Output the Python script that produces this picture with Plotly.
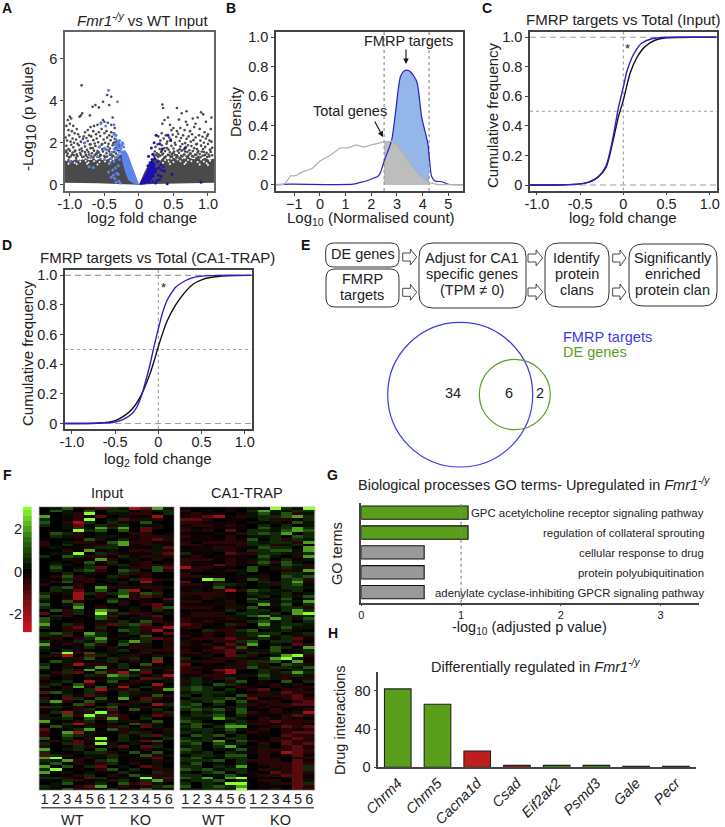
import numpy as np
import plotly.graph_objects as go

W, H = 725, 827
FONT = "Liberation Sans"
DARK = "#222222"
AX = "#444444"

# ---------- Panel A: volcano
A_GREY_X = [-0.83,-0.46,-0.52,-0.40,-0.43,-0.63,-0.67,-0.58,-0.82,-0.86,-0.84,-0.71,-1.00,-1.03,-0.98,-0.52,-0.50,-0.55,-0.45,-0.60,-0.65,-0.38,-0.40,-0.35,-0.70,-0.74,-0.78,-0.90,-0.95,-1.00,-1.05,-1.02,-0.97,-0.93,-0.88,-0.80,-0.72,-0.66,-0.62,-0.58,-0.54,-0.50,-0.47,-0.43,-0.40,-0.36,-0.33,
 -1.06,-1.04,-1.01,-0.99,-0.96,-0.94,-0.91,-0.89,-0.86,-0.84,-0.81,-0.79,-0.76,-0.74,-0.71,-0.69,-0.66,-0.64,-0.61,-0.59,-0.56,-0.54,-0.51,-0.49,-0.46,-0.44,-0.41,-0.39,-0.37,-0.35,-0.32,-0.30,
 -1.05,-1.02,-0.98,-0.95,-0.92,-0.87,-0.83,-0.78,-0.75,-0.70,-0.67,-0.63,-0.60,-0.57,-0.53,-0.48,-0.45,-0.42,-0.38,-0.34,-0.31,-0.29,
 -1.06,-1.03,-1.00,-0.97,-0.93,-0.90,-0.85,-0.82,-0.77,-0.73,-0.68,-0.65,-0.62,-0.58,-0.55,-0.52,-0.47,-0.44,-0.40,-0.36,-0.33,-0.28,
 -1.04,-0.99,-0.94,-0.89,-0.84,-0.80,-0.76,-0.72,-0.69,-0.64,-0.60,-0.56,-0.50,-0.46,-0.42,-0.37,-0.34,-0.30,-0.26,
 -1.05,-1.01,-0.96,-0.91,-0.86,-0.82,-0.78,-0.74,-0.70,-0.66,-0.61,-0.57,-0.53,-0.49,-0.43,-0.39,-0.35,-0.31,-0.27,
 0.34,0.35,0.55,0.42,0.37,0.34,0.68,0.69,0.62,0.58,0.78,0.85,0.90,0.93,0.97,1.05,0.82,0.70,0.45,0.47,0.50,0.55,0.60,0.66,0.74,0.80,0.88,0.95,1.00,1.04,
 0.28,0.31,0.33,0.36,0.39,0.41,0.44,0.46,0.49,0.52,0.54,0.57,0.59,0.61,0.64,0.67,0.69,0.72,0.75,0.77,0.79,0.82,0.84,0.87,0.89,0.92,0.94,0.97,0.99,1.02,1.05,
 0.24,0.27,0.30,0.33,0.37,0.40,0.43,0.47,0.50,0.53,0.56,0.60,0.63,0.65,0.68,0.71,0.73,0.76,0.80,0.83,0.86,0.90,0.93,0.96,1.00,1.03,1.06,
 0.23,0.26,0.29,0.32,0.35,0.38,0.42,0.45,0.48,0.51,0.55,0.58,0.62,0.66,0.70,0.74,0.78,0.81,0.85,0.88,0.91,0.95,0.98,1.01,1.04,
 0.22,0.25,0.28,0.31,0.34,0.39,0.44,0.48,0.52,0.56,0.61,0.65,0.69,0.72,0.77,0.83,0.86,0.92,0.96,1.02,1.06,
 0.21,0.27,0.33,0.37,0.41,0.46,0.50,0.54,0.59,0.63,0.67,0.71,0.75,0.79,0.84,0.89,0.94,0.99,1.03]
A_GREY_Y = [4.73,4.27,3.95,4.19,3.79,3.79,3.71,3.68,3.40,3.24,3.30,3.30,3.24,3.08,3.15,3.08,3.00,2.95,2.95,2.85,2.80,3.20,2.85,2.70,2.75,2.60,2.50,2.65,2.80,2.90,2.80,2.60,2.55,2.45,2.40,2.30,2.35,2.55,2.40,2.50,2.65,2.45,2.55,2.35,2.50,2.45,2.35,
 2.25,2.10,2.35,2.05,2.20,2.00,2.15,1.95,2.28,2.05,2.18,1.98,2.22,2.08,1.92,2.30,2.12,1.96,2.20,2.02,2.32,1.90,2.15,2.00,2.24,1.95,2.12,2.28,1.98,2.18,2.05,1.92,
 1.85,1.70,1.90,1.78,1.62,1.88,1.72,1.82,1.66,1.92,1.74,1.84,1.60,1.80,1.94,1.68,1.82,1.72,1.88,1.76,1.64,1.84,
 1.55,1.48,1.62,1.42,1.58,1.45,1.52,1.60,1.44,1.56,1.50,1.62,1.46,1.54,1.40,1.58,1.50,1.64,1.44,1.56,1.48,1.60,
 1.38,1.34,1.40,1.36,1.42,1.33,1.38,1.44,1.35,1.40,1.32,1.42,1.37,1.34,1.43,1.38,1.31,1.40,1.36,
 1.62,1.30,1.52,1.28,1.66,1.32,1.56,1.29,1.74,1.30,1.50,1.33,1.68,1.30,1.58,1.32,2.02,1.78,1.88,
 3.82,3.65,3.65,3.20,3.08,2.90,3.00,3.50,3.40,3.10,3.15,3.20,3.45,3.35,3.00,3.20,2.90,2.85,2.85,2.60,2.70,2.55,2.70,2.60,2.55,2.75,2.65,2.50,2.40,2.65,
 2.30,2.10,2.45,2.20,2.35,2.05,2.25,2.15,2.38,2.00,2.28,2.42,2.08,2.22,2.35,1.98,2.18,2.30,2.05,2.40,2.12,2.25,1.95,2.35,2.10,2.28,2.00,2.20,2.32,2.10,2.05,
 1.80,1.92,1.70,1.88,1.75,1.95,1.66,1.85,1.72,1.90,1.62,1.82,1.94,1.68,1.78,1.88,1.64,1.84,1.74,1.92,1.60,1.86,1.70,1.80,1.94,1.66,1.76,
 1.58,1.50,1.44,1.56,1.48,1.60,1.42,1.54,1.46,1.58,1.40,1.52,1.62,1.44,1.56,1.48,1.60,1.42,1.54,1.46,1.58,1.40,1.52,1.44,1.56,
 1.36,1.40,1.32,1.38,1.44,1.34,1.40,1.35,1.42,1.33,1.38,1.44,1.34,1.40,1.36,1.43,1.33,1.38,1.42,1.35,1.40,
 1.46,1.38,1.62,1.30,1.74,1.32,1.52,1.30,1.68,1.34,1.58,1.30,1.48,1.33,1.70,1.31,1.56,1.32,1.66]
A_DENSE_X = [-1.07,-1.02,-0.96,-0.9,-0.84,-0.78,-0.72,-0.66,-0.6,-0.54,-0.48,-0.42,-0.36,-0.3,-0.26,-0.22,-0.16,-0.08,0.0,0.08,0.15,0.19,0.24,0.3,0.36,0.42,0.48,0.54,0.6,0.66,0.72,0.78,0.84,0.9,0.96,1.02,1.09,1.09,0.6,0.2,0.0,-0.2,-0.6,-1.07]
A_DENSE_Y = [1.15,1.22,1.14,1.24,1.18,1.26,1.16,1.25,1.19,1.28,1.18,1.3,1.22,1.35,1.45,1.4,1.2,0.7,0.0,0.6,1.05,1.2,1.25,1.18,1.3,1.2,1.32,1.22,1.34,1.24,1.3,1.22,1.34,1.2,1.28,1.18,1.25,0.09,0.07,0.03,0.0,0.03,0.07,0.09]
A_GAP_X = [-1.05,-1.0,-0.97,-0.93,-0.88,-0.85,-0.8,-0.77,-0.73,-0.69,-0.65,-0.62,-0.57,-0.53,-0.49,-0.45,-0.41,-0.37,-0.33,0.27,0.31,0.35,0.38,0.43,0.47,0.5,0.56,0.6,0.63,0.68,0.71,0.76,0.8,0.85,0.9,0.94,0.98,1.03,-1.02,-0.9,-0.75,-0.6,-0.43,0.3,0.45,0.66,0.88,1.0]
A_GAP_Y = [1.18,1.1,1.22,1.05,1.2,1.1,1.24,1.14,1.06,1.22,1.12,1.2,1.08,1.22,1.1,1.26,1.14,1.2,1.28,1.1,1.2,1.04,1.18,1.1,1.24,1.08,1.2,1.12,1.26,1.06,1.18,1.12,1.26,1.08,1.2,1.1,1.02,1.14,1.0,0.98,1.0,0.96,1.0,0.95,0.98,0.98,0.96,0.94]
A_LIGHT_X = [0.0,-0.08,-0.155,-0.20,-0.26,-0.24,-0.20,-0.155,-0.08]
A_LIGHT_Y = [0.0,0.70,1.41,1.65,1.60,1.10,0.62,0.22,0.06]
A_DEEP_X = [0.0,0.11,0.19,0.22,0.24,0.19,0.09]
A_DEEP_Y = [0.0,0.62,1.25,1.06,0.62,0.27,0.02]
A_LIGHTPT_X = [-0.44,-0.31,-0.55,-0.48,-0.36,-0.34,-0.78,-0.58,-0.50,-0.46,-0.36,-0.33,-0.32,-0.30,-0.28,-0.26,-0.24,-0.22,-0.34,-0.31,-0.29,-0.27,-0.25,-0.23,-0.36,-0.33,-0.30,-0.28,-0.26,-0.24,-0.33,-0.30,-0.28,-0.40,-0.36,-0.42,-0.30,-0.34,-0.38,-0.44,-0.32,-0.37,-0.40,-0.35,-0.33,-0.29,-0.27,-0.50,-0.70,-1.00,-0.72,-0.66,-0.60,-0.39,-0.30]
A_LIGHTPT_Y = [4.50,3.95,2.90,2.80,2.85,2.35,2.00,1.80,1.75,1.65,2.40,2.15,1.95,2.05,2.10,1.90,2.00,1.80,1.90,1.85,2.00,1.75,1.85,1.95,1.70,1.65,1.75,1.55,1.70,1.50,1.30,1.40,1.20,1.25,1.10,1.05,0.90,0.80,0.70,0.60,0.55,0.45,0.35,0.30,0.12,0.18,0.08,1.20,1.30,1.10,0.85,0.82,1.35,1.55,0.50]
A_DEEPPT_X = [0.25,0.42,0.22,0.30,0.18,0.34,0.46,0.67,0.14,0.20,0.16,0.23,0.27,0.31,0.35,0.13,0.18,0.22,0.25,0.29,0.33,0.37,0.15,0.19,0.24,0.28,0.32,0.12,0.17,0.21,0.26,0.30,0.15,0.20,0.24,0.10,0.17,0.22,0.41,0.90,0.48,0.14,0.19]
A_DEEPPT_Y = [2.35,2.35,2.00,1.95,1.75,1.70,2.10,1.75,1.35,1.45,1.05,1.25,1.10,0.95,0.85,0.90,0.85,0.95,0.75,0.80,0.70,0.65,0.60,0.55,0.60,0.45,0.40,0.35,0.30,0.40,0.20,0.25,0.12,0.15,0.08,0.20,0.45,0.65,0.05,0.12,0.50,0.72,1.20]

# ---------- Panel B: density
B_TOTAL_X = [-1.71,-1.42,-1.3,-1.15,-1.0,-0.9,-0.7,-0.3,0.0,0.4,0.8,1.1,1.4,1.7,2.0,2.3,2.5,2.6,2.8,3.0,3.3,3.6,3.9,4.1,4.25,4.3,4.6,5.57]
B_TOTAL_Y = [0,0,0.02,0.06,0.06,0.065,0.085,0.11,0.16,0.2,0.25,0.25,0.27,0.255,0.27,0.285,0.29,0.293,0.295,0.27,0.2,0.12,0.06,0.03,0.015,0.012,0,0]
B_FMRP_X = [-1.71,-1.2,1.3,1.5,1.8,2.1,2.25,2.35,2.5,2.79,2.95,3.14,3.31,3.5,3.77,3.96,4.2,4.25,4.35,4.48,4.74,5.0,5.57]
B_FMRP_Y = [0,0.003,0.003,0.012,0.025,0.045,0.055,0.08,0.16,0.30,0.5,0.735,0.775,0.77,0.70,0.46,0.28,0.2,0.055,0.025,0.02,0.003,0]
B_BOUNDS = [2.5, 4.25]

# ---------- Panels C, D: cumulative curves
C_TOTAL_X = [-1.08,-0.7,-0.5,-0.4,-0.3,-0.2,-0.127,-0.058,0.0,0.077,0.154,0.25,0.366,0.5,1.08]
C_TOTAL_Y = [0,0.002,0.008,0.02,0.05,0.12,0.28,0.46,0.575,0.755,0.86,0.937,0.98,0.997,1]
C_FMRP_X = [-1.08,-0.7,-0.5,-0.4,-0.3,-0.2,-0.127,-0.058,0.0,0.04,0.096,0.154,0.21,0.33,0.5,1.08]
C_FMRP_Y = [0,0.002,0.008,0.02,0.05,0.13,0.30,0.52,0.665,0.767,0.858,0.92,0.96,0.99,1,1]
D_TOTAL_X = [-1.08,-0.7,-0.5,-0.4,-0.3,-0.2,-0.1,-0.05,0,0.05,0.1,0.2,0.3,0.4,0.5,0.6,0.8,1.08]
D_TOTAL_Y = [0,0.003,0.02,0.05,0.1,0.19,0.33,0.42,0.52,0.61,0.69,0.8,0.88,0.94,0.97,0.985,0.997,1]
D_FMRP_X = [-1.08,-0.7,-0.5,-0.4,-0.3,-0.25,-0.2,-0.1,-0.05,0,0.05,0.1,0.15,0.2,0.3,0.4,0.5,0.7,1.08]
D_FMRP_Y = [0,0.001,0.01,0.03,0.07,0.11,0.18,0.39,0.52,0.64,0.75,0.83,0.88,0.92,0.96,0.985,0.995,1,1]

# ---------- Panel F: heat map, one letter per cell (R strong red .. j bright green)
HEAT_LEVELS = {"R": -2.0, "r": -1.05, "d": -0.5, "e": -0.2, ".": 0, "f": 0.25, "g": 0.55, "h": 1.1, "i": 2.0, "j": 3.0}
F_INPUT_ROWS = [
".fhedrgfRrif",".hf.h.gg.dfg","..fdj.ffdd.g","i.ed.r.feeR.","g.edj.frdfd.","h.dRg.gf.h..","g.fr.gdg.ff.","..fr.igi.rd.","...jgh.h.r..",".hgd.f.edd.e",
".gfd.ffeeddf","e..ehd.gedrd","d.fdd.hiddee","d.g.edgiedf.","ef.edgg.e.fr","..d.ief.ddfd",".ffj.gdeeedr","g.hgdd.gedfd","..fe.id.f.d.",".f.eheg.ed.e",
".gf.g.dg.dfd",".h.egr.fddhr",".g.ghd.hg.hd","..g.fe.gdd..",".dhde.gd.d..","e.gddef.grdf",".dhed.fd.Re.","d..d.f.f.fe.",".ghd.iddfddf",".gfr.h.hR.d.",
"gefRgdghdhg.","h.eR.d.idrd.","g.dRf.g.d..r","f.hd..hf.e.f","h.fh.e.d.dre","g.ei.de.f.rh",".hdg.ih.d.ge","r.dg.jdgdd.f",".gd.ehge.dr.","hf.e.hd.ffd.",
"h..e.ffg.hde","i.gd.drghr.d","g.dr.g.fgddR","..dd.d.hgdR.","ghg.ig.egd.r","gfr.hg.f.h.e","ed.dgie.fgrd","geegfh.gig.d","i.dehd.hdd.f","ge.eg.d.df.d",
"f.gee.fg.ddd",".gjdhff.ed.e","fdR.rgefd.df","e.fdh.gdg.h.",".hfe.fg.deR.","g.fRddeg.he.","h.d.fieg.dff","f.gdi.d.ig.d",".dgr.hdRfr.e","ged.gdihgedR",
"d.f.e.gg.rgd",".fg.Reh.df.f","dg.hd.fde.R.","g.dieh.R.gdf",".ef.gRfdg.di","rhf.ge.gdff.","..gerd.gfehd","d.rg.h.i.rd.","gid.hfe.dg.e",".f.hr.gdf.Rg",
"rgfd.gh.ed.f","ef.dg.r.heg.",".gRfdjf.e.dg","d.hdjgrd.frd","ffg.hdid.ge.","i.edg.gfd.h.","d.gRd.e.hgd.",".hf.fedg.rf.","r..gi.hdf.ed","d.iRfe.dgd.f",
"d.hgf..gegrf","h.g.dj.g.e.g","edfr.gegfrh.","g.gr.jd.f.d.","d.egd.fr.rg.","i.fg.h.f.d.f","g..eggd.h.h.","rgd.ffge.hdf","ij.ed.g.edr.","gfid.gh.e.de",
"fh.dedg.d.f.","i.h.gr.f.rd.","gj.e.dh.g.df","i.f.fe.ge.gd","f.edg.dehfdd","ggd.rg.f.jdg","e.gd.fdg.gid",".fh.eg.hdrf.","gf.dri.d.dgh","fehdfeg.dhfe",
]
F_TRAP_ROWS = [
"e...e.f.jgej","d.e.e.giffgg","edee.efhfhdf","edrRedfgghig","rrd.ee.gdd.g","ddeee.f.f.hf","eddede.g.g.f","d.eeee.hfgig","ded.r.ggfhih","e..e.dghgi.g",
"dee.d.ffg.hg","eeeedeh.gdgf","d.ddddgfggdi","ddeeedggdfg.",".eedde.hgg.i","eeefd.gghhfi","gee.rddggfdg","ed.eee.hf.fi","dddedefg.gef","dee.dedhdhf.",
"d.erde.g.hgd","Rddee.h.fgfd","edeedfh.edfi","d..e.f.e.ggf","ddfe.eff.hgh","e.ji.ehd.ghd","r.ed.e.gfgif","ddeggf.fdghe","ee.hee.f.ggf","efedRdhgffg.",
"dddde.gffgef","fedfe.fg.gfh","eedee.h.fh.f","dd.ed.ggegfi","eeeefe.ifh.g","ddd.dfh.eggd",".eeeg.gg.gig","eddd.ggfg.ij","edddffhifgdf","deeedf.gigfh",
"dedeeeghfg.g","rde.gd.ifggf","dd.ed..gfhff","e.gddgh.fge.","eededfggg.fg","d.d.dfgifgfd","edddrdfgegre","fe.ddgh.ggd.","ded.rdi.f.rd","eeerdhe.hg.i",
"d.ddrdffh.fg","ddedr.gdgefg","eef.rgd.fijd","g.eddfefijfe","dfddedggh.ie","r.e.fdgd.hgf","ddeeddhfggfh","deerRe.gd.gf","dd.dR..gfgig","eeddeffhfdgf",
"fgedge.gfded","dgf.dh.e.h.g","fg.hgf.ed.d.","ghgf.de.d.ed","ghg.g.dr.dde","fgggf.edfrdd","g.gf.hddddre",".ggghfr.edrd","gfgh.hedd.dr","gh.g.gdeddrr",
"hgf.dgedede.","ghghfh..d.ed",".gfg.hdedefR","fggh.gee.drd","gffigf.dede.","hg..fgedrddd","fhg.hgdd.dd.","gh.gii.edrdr","fggfhfed.ded","gfg.g.de.drr",
".hgh.g.e.rdd","gfg.gg..ddrd","hggi.hdedrdd","gh.hfg.d.rdr","fg.gi.ef.dre","hg.f.hedddrd","gfg.gfedeRrd",".ggfhh.d.fre","ghf.gg.de.dd","gggh.gddd.re",
"fh.f.g.dddrd","gg.gfi.eddrg","hghfgg.dfdrg","f.gh.ge.rdrd","gg.fh.eddrre","hgi.ij.e.fre","fggh.g.dd.rf","g.gfjj.efdrg","h.ghgi.ee.rd","ffggfj.ed.rd",
]

# Colour bar steps
F_SCALE_LEVELS = [-2.75,-2.5,-2.25,-2,-1.75,-1.5,-1.25,-1,-0.75,-0.5,-0.25,0,0.25,0.5,0.75,1,1.25,1.5,1.75,2,2.25,2.5,2.75,3]

# ---------- Panel G / H bars
G_TERMS = ["GPC acetylcholine receptor signaling pathway","regulation of collateral sprouting","cellular response to drug","protein polyubiquitination","adenylate cyclase-inhibiting GPCR signaling pathway"]
G_VALUES = [1.07,1.07,0.63,0.63,0.63]
G_COLORS = ["#5a9e1c","#5a9e1c","#999999","#999999","#999999"]
H_GENES = ["Chrm4","Chrm5","Cacna1d","Csad","Eif2ak2","Psmd3","Gale","Pecr"]
H_VALUES = [82,66,17,2,2,2,1,1]
H_COLORS = ["#5a9e1c","#5a9e1c","#bf1e1e","#bf1e1e","#5a9e1c","#5a9e1c","#222222","#222222"]

def px(x): return x / W
def py(y): return 1 - y / H

fig = go.Figure()
anns, shapes = [], []
layout_axes = {}

def axes(n, x0, x1, y0, y1, xr, yr, **kw):
    s = "" if n == 1 else str(n)
    xa = dict(domain=[px(x0), px(x1)], range=xr, anchor="y"+s, showgrid=False, zeroline=False, automargin=False,
              showline=True, linecolor=AX, linewidth=1.5, ticks="outside", ticklen=3, tickwidth=1, tickcolor=AX,
              ticklabelstandoff=-4, tickfont=dict(family=FONT, size=14.5, color=DARK))
    ya = dict(domain=[py(y1), py(y0)], range=yr, anchor="x"+s, showgrid=False, zeroline=False, automargin=False,
              showline=True, linecolor=AX, linewidth=1.5, ticks="outside", ticklen=3, tickwidth=1, tickcolor=AX,
              tickfont=dict(family=FONT, size=14.5, color=DARK))
    xa.update(kw.get("x", {})); ya.update(kw.get("y", {}))
    layout_axes["xaxis"+s] = xa; layout_axes["yaxis"+s] = ya
    return "x"+s, "y"+s

def text(x, y, t, size=14.5, color=DARK, anchor="center", angle=0, bold=False):
    if bold: t = "<b>"+t+"</b>"
    anns.append(dict(x=px(x), y=py(y), xref="paper", yref="paper", text=t, showarrow=False, textangle=angle,
                     xanchor=anchor, yanchor="middle", font=dict(family=FONT, size=size, color=color)))

def arrow(x0, y0, x1, y1):
    anns.append(dict(x=px(x1), y=py(y1), ax=x0-x1, ay=y0-y1, xref="paper", yref="paper", axref="pixel", ayref="pixel",
                     text="", showarrow=True, arrowhead=2, arrowsize=1, arrowwidth=1.1, arrowcolor="#111111"))

def rbox(x0, y0, x1, y1, r):
    d = (f"M{px(x0+r)},{py(y0)} L{px(x1-r)},{py(y0)} Q{px(x1)},{py(y0)} {px(x1)},{py(y0+r)} "
         f"L{px(x1)},{py(y1-r)} Q{px(x1)},{py(y1)} {px(x1-r)},{py(y1)} L{px(x0+r)},{py(y1)} "
         f"Q{px(x0)},{py(y1)} {px(x0)},{py(y1-r)} L{px(x0)},{py(y0+r)} Q{px(x0)},{py(y0)} {px(x0+r)},{py(y0)} Z")
    shapes.append(dict(type="path", xref="paper", yref="paper", path=d, line=dict(color="#333333", width=1)))

def block(x0, x1, y):
    m = x0 + (x1-x0)*0.55
    pts = [(x0,y-4),(m,y-4),(m,y-8),(x1,y),(m,y+8),(m,y+4),(x0,y+4)]
    d = "M" + " L".join(f"{px(a)},{py(b)}" for a,b in pts) + " Z"
    shapes.append(dict(type="path", xref="paper", yref="paper", path=d, line=dict(color="#333333", width=0.9)))

def guides(xa, ya, xr, yr=None):
    for v, dash in ((0,"dash"),(1,"dash"),(0.5,"dot")):
        fig.add_trace(go.Scatter(x=list(xr), y=[v,v], mode="lines", xaxis=xa, yaxis=ya, hoverinfo="skip",
                                 line=dict(color="#a0a0a0", width=1.1, dash="6px,4px" if dash=="dash" else "dot"), showlegend=False))
    fig.add_trace(go.Scatter(x=[0,0], y=list(yr), mode="lines", xaxis=xa, yaxis=ya, hoverinfo="skip",
                             line=dict(color="#a0a0a0", width=1.1, dash="dot"), showlegend=False))

BIG2 = '<sub><span style="font-size:15px">2</span></sub>'
BIG10 = '<sub><span style="font-size:15px">10</span></sub>'
SMALL = lambda s: f'<sub>{s}</sub>'
num_ticks = dict(tickvals=[-1,-0.5,0,0.5,1], ticktext=["-1.0","-0.5","0","0.5","1.0"])
frac_ticks = dict(tickvals=[0,0.2,0.4,0.6,0.8,1.0], ticktext=["0","0.2","0.4","0.6","0.8","1.0"])
CURVE = dict(shape="spline", smoothing=0.7)

# ---- A
xa, ya = axes(1, 65, 214, 32, 191, [-1.07,1.087], [-0.3,7.27],
              x=dict(**num_ticks, linecolor="#666666"), y=dict(tickvals=[0,2,4,6], linecolor="#666666"))
layout_axes["xaxis"]["mirror"] = True; layout_axes["yaxis"]["mirror"] = True
fig.add_trace(go.Scatter(x=A_DENSE_X, y=A_DENSE_Y, fill="toself", fillcolor="#4a4a4a", mode="lines", line=dict(width=0), xaxis=xa, yaxis=ya, showlegend=False))
fig.add_trace(go.Scatter(x=A_GAP_X, y=A_GAP_Y, mode="markers", marker=dict(size=2, color="#ffffff"), xaxis=xa, yaxis=ya, showlegend=False))
fig.add_trace(go.Scatter(x=A_GREY_X, y=A_GREY_Y, mode="markers", marker=dict(size=2.6, color="#4a4a4a"), xaxis=xa, yaxis=ya, showlegend=False))
fig.add_trace(go.Scatter(x=A_LIGHT_X, y=A_LIGHT_Y, fill="toself", fillcolor="#5b84ee", mode="lines", line=dict(width=0), xaxis=xa, yaxis=ya, showlegend=False))
fig.add_trace(go.Scatter(x=A_DEEP_X, y=A_DEEP_Y, fill="toself", fillcolor="#1c0fb4", mode="lines", line=dict(width=0), xaxis=xa, yaxis=ya, showlegend=False))
fig.add_trace(go.Scatter(x=A_LIGHTPT_X, y=A_LIGHTPT_Y, mode="markers", marker=dict(size=3, color="#5b84ee"), xaxis=xa, yaxis=ya, showlegend=False))
fig.add_trace(go.Scatter(x=A_DEEPPT_X, y=A_DEEPPT_Y, mode="markers", marker=dict(size=3, color="#1c0fb4"), xaxis=xa, yaxis=ya, showlegend=False))
text(142, 20, "<i>Fmr1<sup>-/y</sup></i> vs WT Input", 15)
text(141.7, 219, "log"+BIG2+" fold change", 15)
text(29, 117, "-Log"+BIG10+" (p value)", 15, angle=-90)

# ---- B
xa, ya = axes(2, 276, 463, 32, 191, [-1.71,5.57], [-0.043,1.036],
              x=dict(tickvals=[-1,0,1,2,3,4,5]), y=frac_ticks)
layout_axes["xaxis2"]["mirror"] = True; layout_axes["yaxis2"]["mirror"] = True
tx, ty = np.array(B_TOTAL_X), np.array(B_TOTAL_Y)
fx, fy = np.array(B_FMRP_X), np.array(B_FMRP_Y)
m1 = (fx >= B_BOUNDS[0]) & (fx <= B_BOUNDS[1]); m2 = (tx >= B_BOUNDS[0]) & (tx <= B_BOUNDS[1])
fig.add_trace(go.Scatter(x=fx[m1].tolist(), y=fy[m1].tolist(), fill="tozeroy", fillcolor="#94b6e8", mode="lines", line=dict(width=0, **CURVE), xaxis=xa, yaxis=ya, showlegend=False))
fig.add_trace(go.Scatter(x=tx[m2].tolist(), y=ty[m2].tolist(), fill="tozeroy", fillcolor="#bdbdbd", mode="lines", line=dict(width=0, **CURVE), xaxis=xa, yaxis=ya, showlegend=False))
for v in B_BOUNDS:
    fig.add_trace(go.Scatter(x=[v,v], y=[-0.043,1.036], mode="lines", line=dict(color="#999999", width=1.3, dash="dot"), xaxis=xa, yaxis=ya, showlegend=False))
fig.add_trace(go.Scatter(x=B_FMRP_X, y=B_FMRP_Y, mode="lines", line=dict(color="#2a1fc8", width=1.2, **CURVE), xaxis=xa, yaxis=ya, showlegend=False))
fig.add_trace(go.Scatter(x=B_TOTAL_X, y=B_TOTAL_Y, mode="lines", line=dict(color="#b0b0b0", width=1.2), xaxis=xa, yaxis=ya, showlegend=False))
text(408, 41, "FMRP targets", 14.5); arrow(406, 48, 406, 64)
text(350, 111, "Total genes", 14.5); arrow(374, 120, 383, 137)
text(370.7, 219, "Log"+SMALL("10")+" (Normalised count)", 15)
text(235, 112, "Density", 15, angle=-90)

# ---- C
xa, ya = axes(3, 530, 716.7, 32, 190.5, [-1.08,1.08], [-0.037,1.036], x=num_ticks, y=frac_ticks)
layout_axes["xaxis3"]["mirror"] = True; layout_axes["yaxis3"]["mirror"] = True
guides(xa, ya, [-1.08,1.08], [-0.037,1.036])
fig.add_trace(go.Scatter(x=C_TOTAL_X, y=C_TOTAL_Y, mode="lines", line=dict(color="#111111", width=1.4, **CURVE), xaxis=xa, yaxis=ya, showlegend=False))
fig.add_trace(go.Scatter(x=C_FMRP_X, y=C_FMRP_Y, mode="lines", line=dict(color="#2a1fc8", width=1.4, **CURVE), xaxis=xa, yaxis=ya, showlegend=False))
text(627, 49, "*", 13)
text(623.7, 20, "FMRP targets vs Total (Input)", 15)
text(623, 219, "log"+SMALL("2")+" fold change", 15)
text(492, 115, "Cumulative frequency", 15, angle=-90)

# ---- D
xa, ya = axes(4, 65, 251.7, 270, 429, [-1.08,1.08], [-0.037,1.036], x=num_ticks, y=frac_ticks)
layout_axes["xaxis4"]["mirror"] = True; layout_axes["yaxis4"]["mirror"] = True
guides(xa, ya, [-1.08,1.08], [-0.037,1.036])
fig.add_trace(go.Scatter(x=D_TOTAL_X, y=D_TOTAL_Y, mode="lines", line=dict(color="#111111", width=1.4, **CURVE), xaxis=xa, yaxis=ya, showlegend=False))
fig.add_trace(go.Scatter(x=D_FMRP_X, y=D_FMRP_Y, mode="lines", line=dict(color="#2a1fc8", width=1.4, **CURVE), xaxis=xa, yaxis=ya, showlegend=False))
text(163, 288, "*", 13)
text(157.7, 257, "FMRP targets vs Total (CA1-TRAP)", 15)
text(158, 459, "log"+SMALL("2")+" fold change", 15)
text(27, 353, "Cumulative frequency", 15, angle=-90)

# ---- E
rbox(325.7,243,399,267,8); rbox(326,269,399,307,9); rbox(419,243,526,308,14); rbox(545,243,609,307,14); rbox(629,244,717,306,14)
for a,b,y in [(402.7,416.7,257),(402.7,416.7,292.3),(528,542.7,258),(528,542.7,292),(612.7,626,258),(612.7,626,292)]:
    block(a,b,y)
for x,y,t in [(362.5,254,"DE genes"),(362,279,"FMRP"),(362,295,"targets"),(472.3,258,"Adjust for CA1"),(472.3,274,"specific genes"),(472.3,290,"(TPM ≠ 0)"),
              (577,258,"Identify"),(577,274,"protein"),(577,290,"clans"),(672.7,258,"Significantly"),(672.7,274,"enriched"),(672.7,290,"protein clan")]:
    text(x,y,t,14.5)
shapes.append(dict(type="circle", xref="paper", yref="paper", x0=px(387.7), x1=px(532.7), y0=py(467), y1=py(322.3), line=dict(color="#3a3ae8", width=1.2)))
shapes.append(dict(type="circle", xref="paper", yref="paper", x0=px(479.3), x1=px(550.3), y0=py(429.7), y1=py(359.3), line=dict(color="#5a9e1c", width=1.2)))
text(452.7,393,"34",14.5); text(509,393,"6",14.5); text(540,393,"2",14.5)
text(561,336.7,"FMRP targets",14.5,color="#3a3ae8",anchor="left"); text(561,352,"DE genes",14.5,color="#5a9e1c",anchor="left")

# ---- F
def decode(rows):
    return [[HEAT_LEVELS[c] for c in (r+"............")[:12]] for r in rows]
SCALE = [[0,"#d8141e"],[0.25,"#7c1014"],[0.5,"#000000"],[0.75,"#2f6e14"],[1,"#8cff30"]]
col_ticks = dict(tickvals=list(range(12)), ticktext=["1","2","3","4","5","6"]*2, ticks="", showline=False, ticklen=0, ticklabelstandoff=-2)
for n,x0,x1,rows in [(5,39,174.3,F_INPUT_ROWS),(6,179.7,315,F_TRAP_ROWS)]:
    xa, ya = axes(n,x0,x1,506.7,790.3,[-0.5,11.5],[len(rows)-0.5,-0.5],x=col_ticks,y=dict(visible=False))
    fig.add_trace(go.Heatmap(z=decode(rows), zmin=-3, zmax=3, colorscale=SCALE, showscale=False, xaxis=xa, yaxis=ya, hoverinfo="skip"))
    shapes.append(dict(type="rect",xref="paper",yref="paper",x0=px(x0),x1=px(x1),y0=py(790.3),y1=py(506.7),line=dict(color="#c8c8c8",width=0.8)))
xa, ya = axes(7,23,31.7,506.7,633,[-0.5,0.5],[-2.9,3.05],
              x=dict(visible=False),y=dict(tickvals=[-2,0,2],ticktext=["-2","0","2"],ticks="",showline=False,side="left"))
fig.add_trace(go.Heatmap(z=[[v] for v in F_SCALE_LEVELS], y=F_SCALE_LEVELS, x=[0], zmin=-3, zmax=3, colorscale=SCALE, showscale=False, xaxis=xa, yaxis=ya, hoverinfo="skip"))
text(107,493,"Input",14.5); text(247,493,"CA1-TRAP",14.5)
for a,b,c,t in [(41.3,105.7,72.7,"WT"),(109.7,174,140.7,"KO"),(181.7,245.7,213,"WT"),(250,314,280.7,"KO")]:
    shapes.append(dict(type="line",xref="paper",yref="paper",x0=px(a),x1=px(b),y0=py(807.7),y1=py(807.7),line=dict(color="#555555",width=1.5)))
    text(c,820,t,14.5)

# ---- G
xa, ya = axes(8,361.3,699,503.3,602.7,[0,3.384],[4.53,-0.47],
              x=dict(tickvals=[0,1,2,3],tickfont=dict(family=FONT,size=11,color=DARK),ticklen=2,ticklabelstandoff=-1),y=dict(showticklabels=False,ticks=""))
fig.add_trace(go.Bar(x=G_VALUES,y=list(range(5)),orientation="h",width=0.67,marker=dict(color=G_COLORS,line=dict(color="#111111",width=1.1)),xaxis=xa,yaxis=ya,showlegend=False))
fig.add_trace(go.Scatter(x=[1,1],y=[4.53,-0.47],mode="lines",line=dict(color="#888888",width=1.2,dash="dot"),xaxis=xa,yaxis=ya,showlegend=False))
for i,t in enumerate(G_TERMS):
    text(706,512.7+20*i,t,11.4,anchor="right")
text(533.7,484,"Biological processes GO terms- Upregulated in <i>Fmr1<sup>-/y</sup></i>",14.5)
text(529,627.7,"-log"+SMALL("10")+" (adjusted p value)",14.5)
text(337,554,"GO terms",14.5,angle=-90)

# ---- H
xa, ya = axes(9,378.3,695.7,671.7,767.3,[-0.49,7.5],[0,100],
              x=dict(tickvals=list(range(8)),ticktext=[f"<i>{g}</i>" for g in H_GENES],tickangle=-45,ticks="",ticklabelstandoff=0),
              y=dict(tickvals=[0,40,80]))
fig.add_trace(go.Bar(x=list(range(8)),y=H_VALUES,width=0.67,marker=dict(color=H_COLORS,line=dict(color="#222222",width=1.1)),xaxis=xa,yaxis=ya,showlegend=False))
text(535,665.7,"Differentially regulated in <i>Fmr1<sup>-/y</sup></i>",14.5)
text(340,720,"Drug interactions",14.5,angle=-90)

# ---- Panel letters
for x,y,t in [(7,8,"A"),(231,8,"B"),(487,8,"C"),(7,245,"D"),(305,245,"E"),(7,475,"F"),(332,475,"G"),(333,633,"H")]:
    text(x,y,t,14,color="#111111",bold=True)

fig.update_layout(width=W,height=H,margin=dict(l=0,r=0,t=0,b=0),paper_bgcolor="white",plot_bgcolor="white",
                  showlegend=False,annotations=anns,shapes=shapes,barmode="overlay",font=dict(family=FONT),**layout_axes)
fig.write_html("out.html",config=dict(displayModeBar=False),post_script="document.body.style.margin='0';")
